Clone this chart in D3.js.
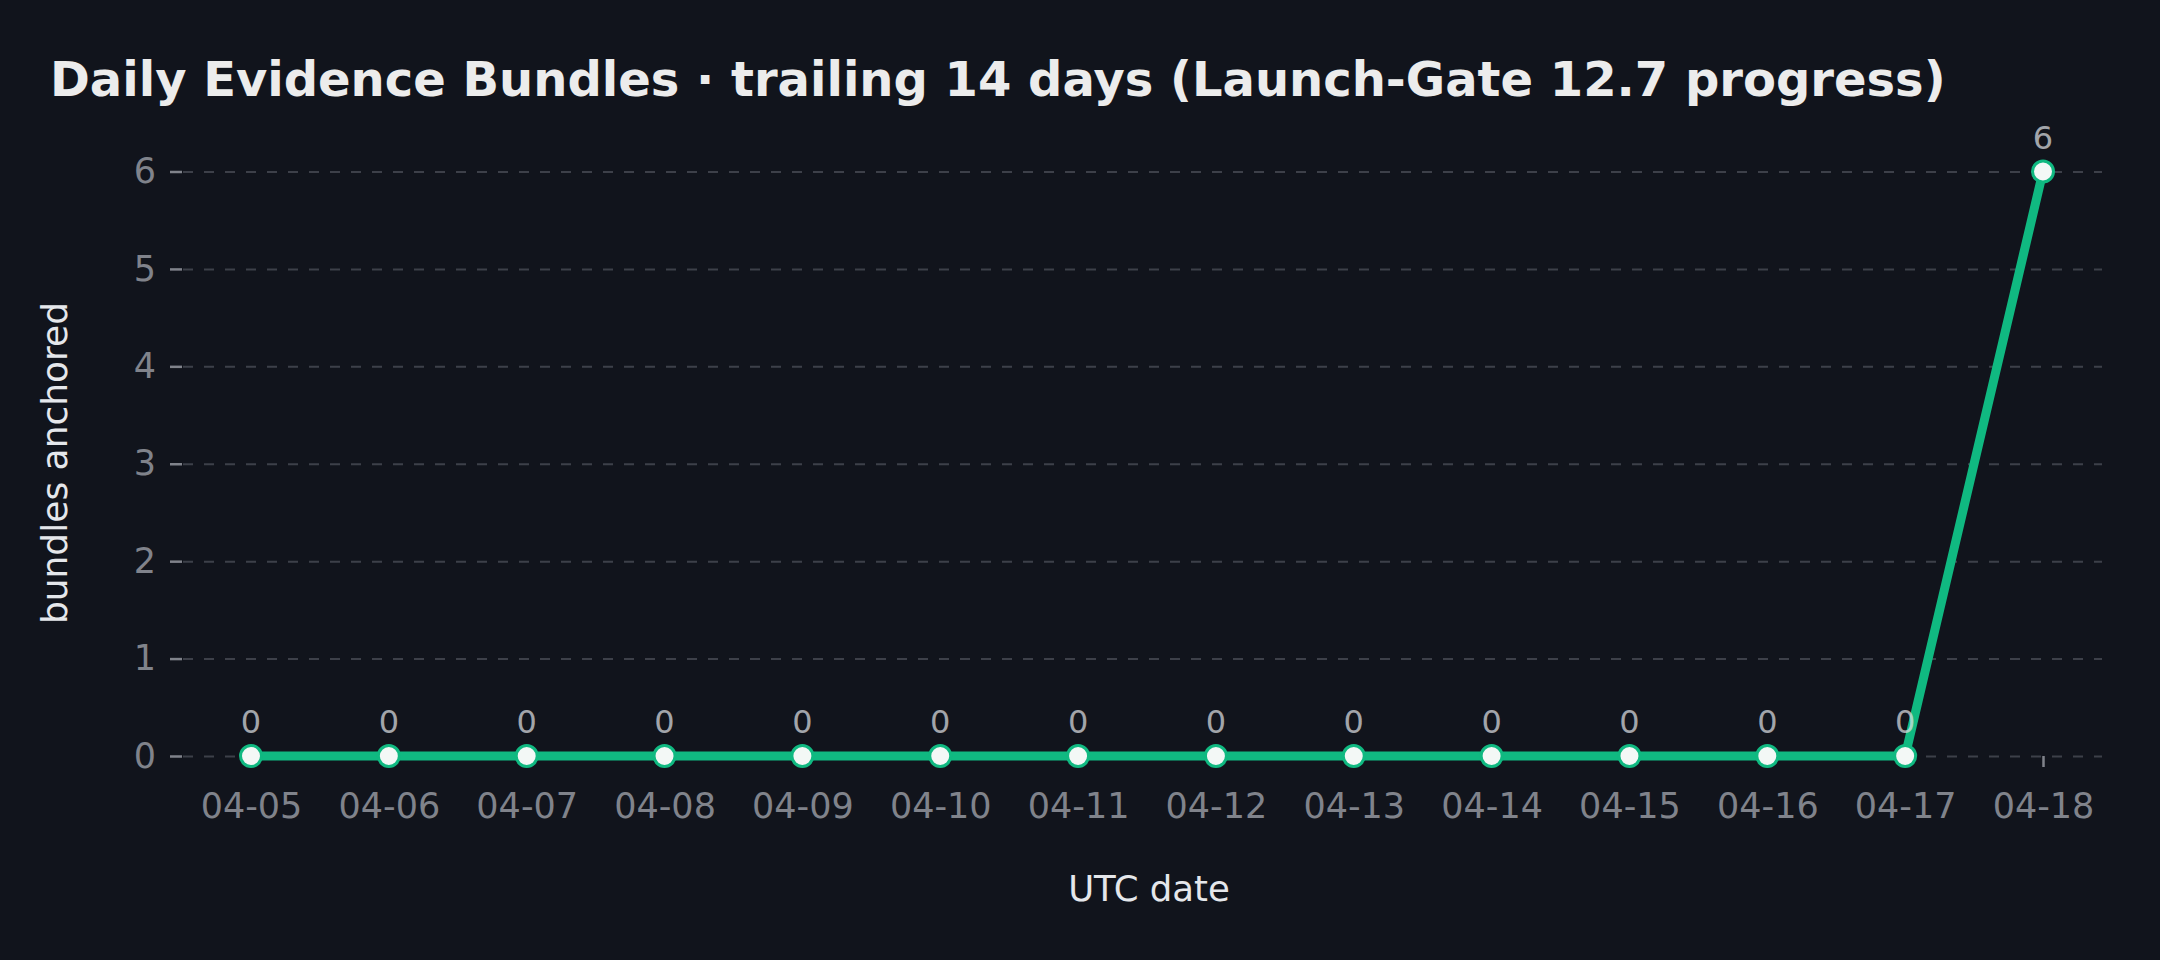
<!DOCTYPE html>
<html><head><meta charset="utf-8">
<script src="https://cdn.jsdelivr.net/npm/d3@7"></script>
<style>
html,body{margin:0;padding:0;background:#11141c;}
svg{display:block;}
text{font-family:"DejaVu Sans",sans-serif;}
</style></head>
<body><svg id="c" width="2160" height="960"></svg>
<script>
const dates = ["04-05","04-06","04-07","04-08","04-09","04-10","04-11","04-12","04-13","04-14","04-15","04-16","04-17","04-18"];
const bundles = [0,0,0,0,0,0,0,0,0,0,0,0,0,6];
const yTicks = [0,1,2,3,4,5,6];
const titleText = "Daily Evidence Bundles · trailing 14 days (Launch-Gate 12.7 progress)";
const xLabel = "UTC date";
const yLabel = "bundles anchored";

const W = 2160, H = 960;
const axL = 183, axR = 2102;
const svg = d3.select("#c");
svg.append("rect").attr("width", W).attr("height", H).attr("fill", "#11141c");

const x = d3.scalePoint().domain(dates).range([251, 2043]);
const y = d3.scaleLinear().domain([0, 6]).range([756, 171.5]);

// gridlines
const grid = svg.append("g").attr("transform", `translate(${axL},0)`)
  .call(d3.axisLeft(y).tickValues(yTicks).tickSize(-(axR - axL)).tickFormat(""));
grid.select(".domain").remove();
grid.selectAll("line").attr("stroke", "#3d4049").attr("stroke-width", 2).attr("stroke-dasharray", "10,11");

// y axis
const ya = svg.append("g").attr("transform", `translate(${axL - 1},0)`)
  .call(d3.axisLeft(y).tickValues(yTicks).tickSize(12).tickPadding(14).tickFormat(d3.format("d")));
ya.select(".domain").remove();
ya.selectAll("line").attr("stroke", "#80838b").attr("stroke-width", 2.5);
ya.selectAll("text").attr("fill", "#80838b").attr("font-size", 35).attr("font-family", "DejaVu Sans");

// x axis
const xa = svg.append("g").attr("transform", `translate(0,${y(0)})`)
  .call(d3.axisBottom(x).tickSize(11).tickPadding(26));
xa.select(".domain").remove();
xa.selectAll("line").attr("stroke", "#80838b").attr("stroke-width", 2.5);
xa.selectAll("text").attr("fill", "#80838b").attr("font-size", 35).attr("font-family", "DejaVu Sans");

// line
const data = dates.map((d, i) => ({d, v: bundles[i]}));
svg.append("path").datum(data)
  .attr("fill", "none").attr("stroke", "#10b981").attr("stroke-width", 9)
  .attr("stroke-linejoin", "round")
  .attr("d", d3.line().x(p => x(p.d)).y(p => y(p.v)));

// markers
svg.append("g").selectAll("circle").data(data).join("circle")
  .attr("cx", p => x(p.d)).attr("cy", p => y(p.v)).attr("r", 10.5)
  .attr("fill", "#f3f8f6").attr("stroke", "#10b981").attr("stroke-width", 3);

// value labels
svg.append("g").selectAll("text").data(data).join("text")
  .attr("x", p => x(p.d)).attr("y", p => y(p.v) - 23)
  .attr("text-anchor", "middle").attr("font-size", 32)
  .attr("fill", "#e5e7eb").attr("fill-opacity", 0.7)
  .text(p => p.v);

// title
svg.append("text").attr("x", 50).attr("y", 96)
  .attr("font-size", 48).attr("font-weight", "bold").attr("fill", "#ececec")
  .text(titleText);

// axis labels
svg.append("text").attr("x", 1149).attr("y", 901)
  .attr("text-anchor", "middle").attr("font-size", 35.5).attr("fill", "#e5e7eb")
  .text(xLabel);
svg.append("text").attr("transform", "translate(67,463) rotate(-90)")
  .attr("text-anchor", "middle").attr("font-size", 36).attr("fill", "#e5e7eb")
  .text(yLabel);
</script></body></html>
